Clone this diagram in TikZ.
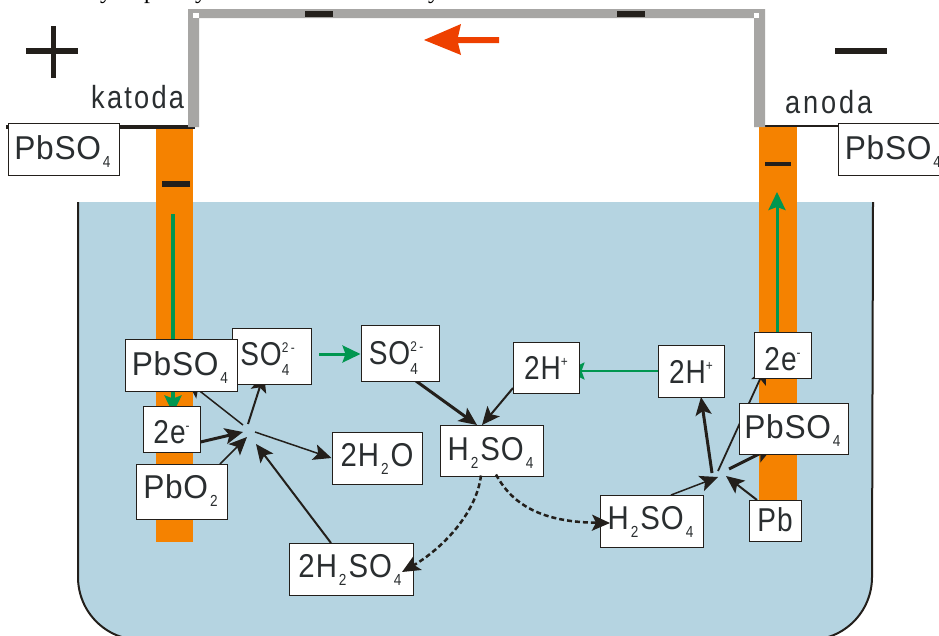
\documentclass[tikz,border=0pt]{standalone}
\usepackage{fontspec}
\usetikzlibrary{arrows.meta,calc,backgrounds}
\newfontfamily\labfont[LetterSpace=3,FakeStretch=0.85]{Liberation Sans}
\newfontfamily\midfont[LetterSpace=3,FakeStretch=0.89]{Liberation Sans}
\newfontfamily\widefont[LetterSpace=2,FakeStretch=0.96]{Liberation Sans}
\newfontfamily\katfont[LetterSpace=7,FakeStretch=0.85]{Liberation Sans}
\newfontfamily\anofont[LetterSpace=9,FakeStretch=0.85]{Liberation Sans}
\newfontfamily\subfont[FakeStretch=0.85]{Liberation Sans}
\newfontfamily\capfont{Liberation Serif}
\definecolor{ink}{HTML}{231F1B}
\definecolor{txt}{HTML}{2A2E30}
\definecolor{orangeel}{HTML}{F58200}
\definecolor{water}{HTML}{B5D4E1}
\definecolor{wire}{HTML}{A7A6A4}
\definecolor{redar}{HTML}{EE4000}
\definecolor{greenar}{HTML}{009650}
\newcommand{\sbs}[1]{\kern2pt\raisebox{-8pt}{\subfont\fontsize{16}{16}\selectfont #1}\kern2pt}
\newcommand{\sps}[1]{\raisebox{13pt}{\subfont\fontsize{14}{14}\selectfont #1}}
\newcommand{\sso}{SO\rlap{\raisebox{-10pt}{\subfont\fontsize{16}{16}\selectfont 4}}\sps{2\,-}\kern8pt}
\pgfdeclarelayer{wet}
\pgfdeclarelayer{links}
\pgfsetlayers{wet,links,main}
\tikzset{
  box/.style={draw=ink,line width=1pt,fill=white,inner sep=0pt,text=txt,
    font=\labfont\fontsize{33}{33}\selectfont,minimum width=#1,text depth=10pt},
  mid/.style={font=\midfont\fontsize{33}{33}\selectfont},
  wide/.style={font=\widefont\fontsize{33}{33}\selectfont},
  plain/.style={text=txt,inner sep=0pt,font=\katfont\fontsize{32}{32}\selectfont},
  cropped/.style={inner sep=0pt,anchor=base,font=\capfont\fontsize{24}{24}\selectfont},
  arr/.style={draw=ink,line width=#1,-{Stealth[length=18pt,width=16pt,inset=4pt,fill=ink]}},
  dasharr/.style={draw=ink,line width=2.5pt,dash pattern=on 5pt off 3pt,-{Stealth[length=18pt,width=16pt,inset=4pt,fill=ink]}},
  garr/.style={draw=greenar,line width=#1,-{Stealth[length=18pt,width=17pt,inset=3pt,fill=greenar]}},
  bar/.style={fill=ink,draw=none},
}
\begin{document}
\begin{tikzpicture}[x=1pt,y=-1pt]
\useasboundingbox (0,0) rectangle (939,635);
\clip (0,0) rectangle (939,635);
\begin{pgfonlayer}{wet}
  \fill[white] (0,0) rectangle (939,635);
  % tank
  \fill[water] (78,202) -- (873,202) -- (872,577) .. controls (872,612) and (844,640) .. (809,640) -- (141,640) .. controls (106,640) and (78,612) .. (78,577) -- cycle;
  \draw[ink,line width=2pt] (78,202) -- (78,577) .. controls (78,612) and (106,640) .. (141,640) -- (809,640) .. controls (844,640) and (872,612) .. (872,577) -- (873,202);
  % electrodes
  \fill[orangeel] (156,127) rectangle (193,542);
  \fill[orangeel] (759,127) rectangle (797,510);
  % terminals
  \fill[ink] (6,125) rectangle (195,129);
  \fill[ink] (765,125) rectangle (840,127);
  % wire
  \fill[wire] (188,127) -- (188,9) -- (765,9) -- (765,127) -- (754,127) -- (754,18) -- (199,18) -- (199,127) -- cycle;
  \fill[white] (193,13) rectangle (199,18);
  \fill[white] (754,13) rectangle (759,18);
  \fill[bar] (305,11) rectangle (333,17);
  \fill[bar] (617,11) rectangle (645,17);
  % signs
  \fill[bar] (26,48) rectangle (78,54);
  \fill[bar] (51,26) rectangle (56,78);
  \fill[bar] (835,48) rectangle (887,54);
  \fill[bar] (162,181) rectangle (190,187);
  \fill[bar] (765,162) rectangle (791,166);
  % current arrow
  \fill[redar] (424,40) -- (461,24) -- (458,37) -- (499,37) -- (499,43) -- (458,43) -- (461,55) -- cycle;
\end{pgfonlayer}

\coordinate (hubL) at (247,431);
\coordinate (hubR) at (722,475);
\coordinate (topG) at (173,214);
\coordinate (topE) at (777,192);

\node[cropped] (capa) at (106,-2) {y};
\node[cropped] (capb) at (150,-2) {p};
\node[cropped] (capc) at (201,-2) {y};
\node[cropped] (capd) at (434,-2) {y};

\node[box=79pt,minimum height=56pt,text height=28pt] (so4a) at (271.5,356) {\sso};
\node[box=112pt,wide,minimum height=52pt,text height=30pt] (pbA) at (181,365) {PbSO\sbs{4}};
\node[box=78pt,minimum height=56pt,text height=32pt] (so4b) at (400,353) {\sso};
\node[box=57pt,minimum height=46pt,text height=34pt,text depth=6pt] (eL) at (171.5,429) {2e\sps{-}};
\node[box=91pt,wide,minimum height=55pt,text height=23pt] (pbo) at (181.5,491.5) {PbO\sbs{2}};
\node[box=90pt,mid,minimum height=52pt,text height=27.4pt] (hho) at (377,458) {2H\sbs{2}O};
\node[box=124pt,mid,minimum height=52pt,text height=27.4pt] (hsL) at (351,569) {2H\sbs{2}SO\sbs{4}};
\node[box=66pt,minimum height=51pt,text height=33pt] (hpA) at (546,367.5) {2H\sps{+}};
\node[box=66pt,minimum height=52pt,text height=34pt] (hpB) at (691,371) {2H\sps{+}};
\node[box=57pt,minimum height=46pt,text height=36pt,text depth=6pt] (eR) at (782.5,355) {2e\sps{-}};
\node[box=109pt,wide,minimum height=51pt,text height=29pt] (pbB) at (793.5,428.5) {PbSO\sbs{4}};
\node[box=103pt,mid,minimum height=51pt,text height=29pt] (hsM) at (491.5,450.5) {H\sbs{2}SO\sbs{4}};
\node[box=103pt,mid,minimum height=52pt,text height=26pt] (hsR) at (651.5,521) {H\sbs{2}SO\sbs{4}};
\node[box=52pt,minimum height=40pt,text height=31.4pt] (pb) at (775,521) {Pb};
\node[box=111pt,wide,minimum height=52pt,text height=30pt] (pbL) at (63.5,149) {PbSO\sbs{4}};
\node[box=112pt,wide,minimum height=52pt,text height=30pt] (pbR) at (894,149) {PbSO\sbs{4}};
\node[plain,anchor=base west] (kat) at (91,108) {katoda};
\node[plain,anchor=base west,font=\anofont\fontsize{32}{32}\selectfont] (ano) at (785,113) {anoda};

\begin{pgfonlayer}{links}
  % green electron and ion arrows
  \draw[garr=3.5pt] (topG) -- ([shift={(1.5,8)}]eL.north);
  \draw[garr=3pt] (eR.north -| topE) -- (topE);
  \draw[garr=3pt] ([yshift=2pt]so4a.east -| 319,0) -- ([yshift=2pt]so4a.east -| so4b.west);
  \draw[garr=2.5pt] (hpB.west) -- ([xshift=-13pt]hpA.east |- hpB.west);
  % left hub
  \draw[arr=1.5pt] ([shift={(-4,-6)}]hubL) -- ([shift={(6,16)}]pbA.center);
  \draw[arr=2pt] ([shift={(1,-7)}]hubL) -- ([shift={(-7.5,18)}]so4a.center);
  \draw[arr=3pt] (eL.east |- 0,442) -- ([shift={(-4,1)}]hubL);
  \draw[arr=1.5pt] ([shift={(38.5,-27.5)}]pbo.center) -- ([shift={(0,6)}]hubL);
  \draw[arr=1.5pt] ([shift={(8,1)}]hubL) -- (hho.west);
  \draw[arr=2pt] ([shift={(-20,-26)}]hsL.center) -- ([shift={(9,13)}]hubL);
  % into the acid
  \draw[arr=3pt] ([shift={(16,28)}]so4b.center) -- ([shift={(-14.5,-25.5)}]hsM.center);
  \draw[arr=2pt] ([shift={(-33,20.5)}]hpA.center) -- ([shift={(-9.5,-25.5)}]hsM.center);
  % right hub
  \draw[arr=1.5pt] ([shift={(19.5,-26)}]hsR.center) -- ([shift={(-4,2)}]hubR);
  \draw[arr=3pt] ([shift={(-10,-2)}]hubR) -- ([shift={(10,26)}]hpB.center);
  \draw[arr=1.8pt] ([shift={(-4,-4)}]hubR) -- ([shift={(-16.5,11)}]eR.center);
  \draw[arr=3pt] ([shift={(7,-6)}]hubR) -- ([shift={(-20.5,18.5)}]pbB.center);
  \draw[arr=2pt] ([shift={(-18,-21)}]pb.center) -- ([shift={(4,1)}]hubR);
\end{pgfonlayer}
% dashed reactions lie over the boxes
\draw[dasharr] ([shift={(-10.5,25)}]hsM.center) .. controls (476,515) and (440,550) .. ([shift={(51,3)}]hsL.center);
\draw[dasharr] ([shift={(4.5,24)}]hsM.center) .. controls (515,510) and (550,522) .. ([shift={(-41.5,2)}]hsR.center);
\end{tikzpicture}
\end{document}
